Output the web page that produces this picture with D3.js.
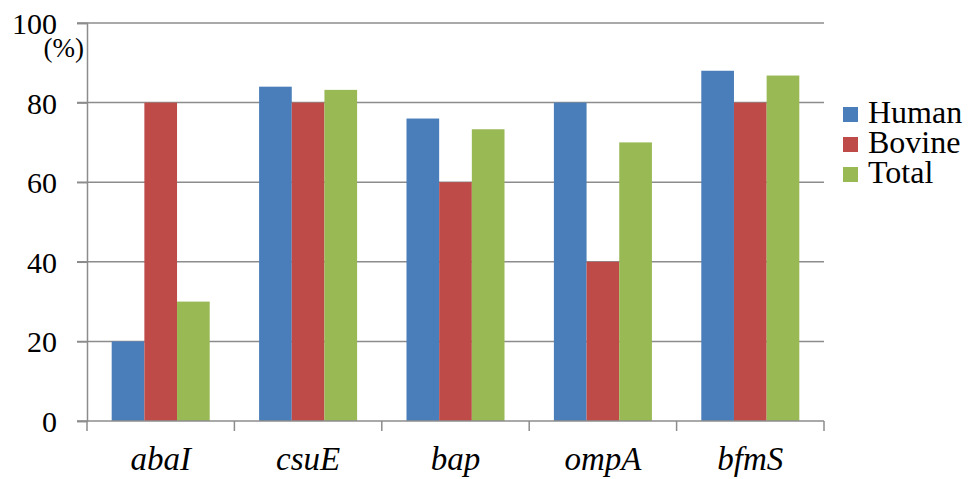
<!DOCTYPE html>
<html>
<head>
<meta charset="utf-8">
<script src="https://cdn.jsdelivr.net/npm/d3@7"></script>
<style>
  body { margin: 0; background: #fff; }
</style>
</head>
<body>
<script>
(function(){

    //chart data
    var genes = ["abaI", "csuE", "bap", "ompA", "bfmS"];
    var seriesNames = ["Human", "Bovine", "Total"];
    var human = [20, 84, 76, 80, 88];
    var bovine = [80, 80, 60, 40, 80];
    var total = [30, 83.2, 73.3, 70, 86.8];
    var yTicks = [0, 20, 40, 60, 80, 100];
    var colors = ["#4a7ebb", "#be4b48", "#98b954"];

    var serif = "Liberation Serif";
    var width = 968, height = 479;
    var left = 87, right = 824, top = 23, bottom = 421;

    var svg = d3.select("body").append("svg")
        .attr("width", width)
        .attr("height", height);

    //category scale
    var x0 = d3.scaleBand()
        .domain(genes)
        .range([left, right])
        .paddingInner(0.335)
        .paddingOuter(0.1675);

    //series scale inside each category
    var x1 = d3.scaleBand()
        .domain(seriesNames)
        .range([0, x0.bandwidth()]);

    var y = d3.scaleLinear()
        .domain([0, 100])
        .range([bottom, top]);

    //gridlines
    svg.selectAll(".grid")
        .data(yTicks.filter(function(d){ return d > 0; }))
        .enter()
        .append("line")
        .attr("x1", left - 10)
        .attr("x2", right)
        .attr("y1", function(d){ return y(d); })
        .attr("y2", function(d){ return y(d); })
        .attr("stroke", "#8c8c8c")
        .attr("stroke-width", 1.5);

    //bars
    var rows = genes.map(function(g, i){
        return {gene: g, values: [human[i], bovine[i], total[i]]};
    });

    var groups = svg.selectAll(".group")
        .data(rows)
        .enter()
        .append("g")
        .attr("transform", function(d){ return "translate(" + x0(d.gene) + ",0)"; });

    groups.selectAll("rect")
        .data(function(d){
            return d.values.map(function(v, j){ return {name: seriesNames[j], value: v, idx: j}; });
        })
        .enter()
        .append("rect")
        .attr("x", function(d){ return x1(d.name); })
        .attr("width", x1.bandwidth())
        .attr("y", function(d){ return y(d.value); })
        .attr("height", function(d){ return bottom - y(d.value); })
        .attr("fill", function(d){ return colors[d.idx]; });

    //y axis
    var yAxis = d3.axisLeft(y)
        .tickValues(yTicks)
        .tickSize(10)
        .tickPadding(20);

    var yG = svg.append("g")
        .attr("transform", "translate(" + left + ",0)")
        .call(yAxis)
        .attr("font-family", serif)
        .attr("font-size", 30);
    yG.select(".domain").attr("stroke", "#8c8c8c").attr("stroke-width", 1.5);
    yG.selectAll(".tick line").attr("stroke", "#8c8c8c").attr("stroke-width", 1.5);
    yG.selectAll(".tick text")
        .attr("dy", "0.35em")
        .attr("fill", "#000")
        .attr("font-family", serif)
        .attr("font-size", 30);

    //unit label
    svg.append("text")
        .attr("x", 84)
        .attr("y", 57)
        .attr("text-anchor", "end")
        .attr("font-family", serif)
        .attr("font-size", 27)
        .text("(%)");

    //x axis line
    svg.append("line")
        .attr("x1", left - 10)
        .attr("x2", right)
        .attr("y1", bottom)
        .attr("y2", bottom)
        .attr("stroke", "#8c8c8c")
        .attr("stroke-width", 1.5);

    //category boundary ticks
    var step = x0.step();
    var bounds = genes.map(function(g){ return x0(g) - step * x0.paddingInner() / 2; });
    bounds.push(right);
    svg.selectAll(".xtick")
        .data(bounds)
        .enter()
        .append("line")
        .attr("x1", function(d){ return d; })
        .attr("x2", function(d){ return d; })
        .attr("y1", bottom)
        .attr("y2", bottom + 10)
        .attr("stroke", "#8c8c8c")
        .attr("stroke-width", 1.5);

    //category labels
    svg.selectAll(".xlabel")
        .data(genes)
        .enter()
        .append("text")
        .attr("x", function(d){ return x0(d) + x0.bandwidth() / 2; })
        .attr("y", 470)
        .attr("text-anchor", "middle")
        .attr("font-family", serif)
        .attr("font-size", 33)
        .attr("font-style", "italic")
        .text(function(d){ return d; });

    //legend
    var legend = svg.selectAll(".legend")
        .data(seriesNames)
        .enter()
        .append("g")
        .attr("transform", function(d, i){ return "translate(843," + (123 + i * 30) + ")"; });

    legend.append("rect")
        .attr("x", 0)
        .attr("y", -16)
        .attr("width", 15)
        .attr("height", 15)
        .attr("fill", function(d, i){ return colors[i]; });

    legend.append("text")
        .attr("x", 25)
        .attr("y", 0)
        .attr("font-family", serif)
        .attr("font-size", 32)
        .text(function(d){ return d; });

})();
</script>
</body>
</html>
